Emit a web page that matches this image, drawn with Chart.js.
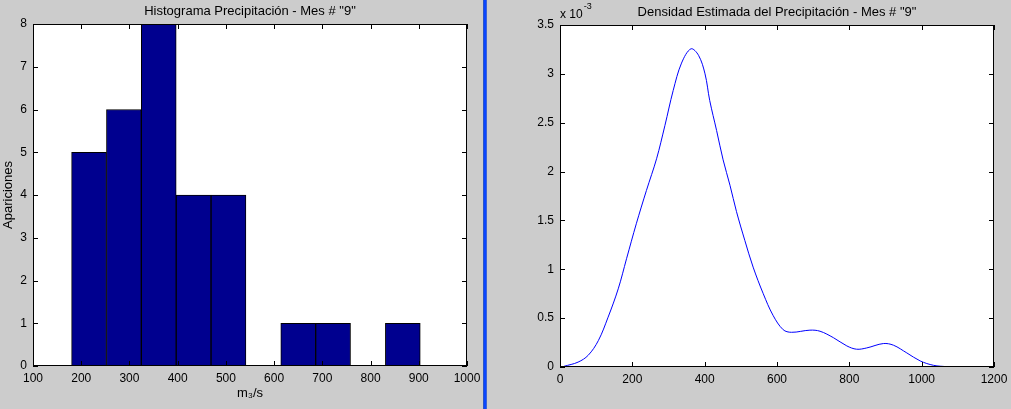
<!DOCTYPE html>
<html lang="es">
<head>
    <meta charset="UTF-8">
    <title>Precipitación - Mes 9</title>
    <style>
        body {
            margin: 0;
            background-color: #cccccc; /* gris de figura */
            width: 1011px;
            height: 409px;
            position: relative;
            overflow: hidden;
            font-family: "Liberation Sans", Arial, sans-serif;
        }
        #histChart { position: absolute; left: 0; top: 0; }
        #densChart { position: absolute; left: 487px; top: 0; }
        .separador {
            position: absolute;
            left: 483px;
            top: 0;
            width: 4px;
            height: 409px;
            background: linear-gradient(to right, #2a55c8 0, #2a55c8 1px, #0a46ff 1px, #0a46ff 3px, #3a64d8 3px);
        }
    </style>
    <script src="https://cdn.jsdelivr.net/npm/chart.js"></script>
</head>
<body>

<canvas id="histChart" width="483" height="409"></canvas>
<div class="separador"></div>
<canvas id="densChart" width="524" height="409"></canvas>

<script>
    // Histograma: centros de las clases y número de apariciones
    const binCenters = [216.2, 288.5, 360.8, 433.1, 505.4, 577.7, 650.0, 722.3, 794.6, 866.9];
    const binCounts  = [5, 6, 8, 4, 4, 0, 1, 1, 0, 1];

    // Densidad estimada (valores en unidades de 10^-3)
    const densityX = [11, 50, 78, 106, 133, 161, 184, 211, 239, 267, 290, 313, 336, 362, 383, 401,
        414, 433, 451, 470, 488, 511, 534, 562, 589, 617, 640, 691, 719, 756, 793, 820, 848, 894,
        922, 959, 996, 1033, 1070];
    const densityY = [0.007, 0.05, 0.12, 0.27, 0.51, 0.80, 1.108, 1.466, 1.807, 2.131, 2.47, 2.83,
        3.11, 3.256, 3.19, 3.0, 2.727, 2.42, 2.12, 1.86, 1.59, 1.296, 1.022, 0.75, 0.529, 0.382,
        0.355, 0.377, 0.366, 0.30, 0.216, 0.182, 0.195, 0.24, 0.223, 0.144, 0.062, 0.017, 0.003];

    const FONT = '"Liberation Sans", Arial, sans-serif';
    Chart.defaults.font.family = FONT;
    Chart.defaults.color = '#000';

    // fondo blanco, marco negro, marcas hacia dentro y título centrado sobre los ejes (estilo MATLAB)
    const matlabAxes = {
        id: 'matlabAxes',
        beforeDraw(chart) {
            const a = chart.chartArea;
            const ctx = chart.ctx;
            ctx.save();
            ctx.fillStyle = '#fff';
            ctx.fillRect(a.left, a.top, a.right - a.left, a.bottom - a.top);
            ctx.restore();
        },
        afterDraw(chart) {
            const {ctx, chartArea: a, scales: {x, y}} = chart;
            const opts = chart.options.plugins.matlabAxes || {};
            const len = 5;
            ctx.save();
            ctx.strokeStyle = '#000';
            ctx.lineWidth = 1;
            ctx.beginPath();
            x.ticks.forEach(t => {
                const px = Math.round(x.getPixelForValue(t.value)) + 0.5;
                ctx.moveTo(px, a.bottom); ctx.lineTo(px, a.bottom - len);
                ctx.moveTo(px, a.top); ctx.lineTo(px, a.top + len);
            });
            y.ticks.forEach(t => {
                const py = Math.round(y.getPixelForValue(t.value)) + 0.5;
                ctx.moveTo(a.left, py); ctx.lineTo(a.left + len, py);
                ctx.moveTo(a.right, py); ctx.lineTo(a.right - len, py);
            });
            ctx.stroke();
            ctx.strokeRect(Math.round(a.left) + 0.5, Math.round(a.top) + 0.5,
                Math.round(a.right - a.left) - 1, Math.round(a.bottom - a.top) - 1);

            ctx.fillStyle = '#000';
            ctx.textBaseline = 'middle';
            if (opts.title) {
                ctx.font = '13px ' + FONT;
                ctx.textAlign = 'center';
                ctx.fillText(opts.title, (a.left + a.right) / 2, opts.titleY);
            }
            // factor de escala del eje y (solo en la densidad)
            if (opts.exponent) {
                ctx.textAlign = 'left';
                ctx.font = '12px ' + FONT;
                const base = 'x 10';
                ctx.fillText(base, a.left, 15);
                const w = ctx.measureText(base).width;
                ctx.font = '9px ' + FONT;
                ctx.fillText(opts.exponent, a.left + w + 1, 7);
            }
            ctx.restore();
        }
    };

    const tickFont = { size: 12 };
    const plainTick = value => String(value);

    // tamaños fijos de ejes, sin relleno extra por etiquetas
    const fixX = h => scale => { scale.height = h; scale.paddingLeft = 0; scale.paddingRight = 0; };
    const fixY = w => scale => { scale.width = w; scale.paddingTop = 0; scale.paddingBottom = 0; };

    new Chart(document.getElementById('histChart'), {
        type: 'bar',
        data: {
            datasets: [{
                data: binCenters.map((c, i) => ({ x: c, y: binCounts[i] })),
                backgroundColor: '#00008f',
                borderColor: '#000',
                borderWidth: ctx => (ctx.raw && ctx.raw.y > 0 ? 1 : 0),
                borderSkipped: false,
                barPercentage: 1,
                categoryPercentage: 1
            }]
        },
        options: {
            responsive: false,
            animation: false,
            devicePixelRatio: 1,
            layout: { padding: { left: 0, right: 16, top: 24, bottom: 0 } },
            plugins: {
                legend: { display: false },
                tooltip: { enabled: false },
                matlabAxes: { title: 'Histograma Precipitación - Mes # "9"', titleY: 11.5 }
            },
            scales: {
                x: {
                    type: 'linear',
                    min: 100,
                    max: 1000,
                    offset: false,
                    grid: { display: false, drawTicks: false },
                    border: { display: false },
                    ticks: { stepSize: 100, font: tickFont, padding: 5, maxRotation: 0, callback: plainTick },
                    title: { display: true, text: 'm₃/s', font: { size: 13 }, padding: { top: 0, bottom: 8 } },
                    afterFit: fixX(43)
                },
                y: {
                    min: 0,
                    max: 8,
                    grid: { display: false, drawTicks: false },
                    border: { display: false },
                    ticks: { stepSize: 1, font: tickFont, padding: 6, callback: plainTick },
                    title: { display: true, text: 'Apariciones', font: { size: 13 }, padding: { top: 1, bottom: 0 } },
                    afterFit: fixY(33)
                }
            }
        },
        plugins: [matlabAxes]
    });

    new Chart(document.getElementById('densChart'), {
        type: 'line',
        data: {
            datasets: [{
                data: densityX.map((v, i) => ({ x: v, y: densityY[i] })),
                borderColor: '#0000ff',
                borderWidth: 1,
                pointRadius: 0,
                fill: false,
                tension: 0.35
            }]
        },
        options: {
            responsive: false,
            animation: false,
            devicePixelRatio: 1,
            layout: { padding: { left: 0, right: 17, top: 25, bottom: 0 } },
            plugins: {
                legend: { display: false },
                tooltip: { enabled: false },
                matlabAxes: {
                    title: 'Densidad Estimada del Precipitación - Mes # "9"',
                    titleY: 12.5,
                    exponent: '-3'
                }
            },
            scales: {
                x: {
                    type: 'linear',
                    min: 0,
                    max: 1200,
                    grid: { display: false, drawTicks: false },
                    border: { display: false },
                    ticks: { stepSize: 200, font: tickFont, padding: 5, maxRotation: 0, callback: plainTick },
                    afterFit: fixX(42)
                },
                y: {
                    min: 0,
                    max: 3.5,
                    grid: { display: false, drawTicks: false },
                    border: { display: false },
                    ticks: { stepSize: 0.5, font: tickFont, padding: 6, callback: plainTick },
                    afterFit: fixY(73)
                }
            }
        },
        plugins: [matlabAxes]
    });
</script>

</body>
</html>
